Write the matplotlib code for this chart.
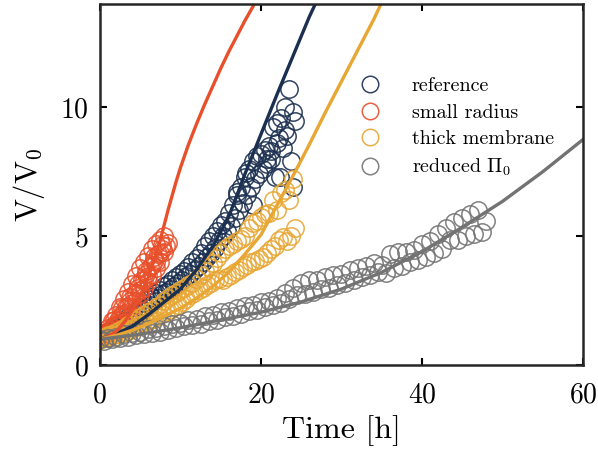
import matplotlib
matplotlib.use("Agg")
import matplotlib.pyplot as plt
import numpy as np

plt.rcParams['font.family'] = ['cmr10', 'DejaVu Serif']
plt.rcParams['mathtext.fontset'] = 'cm'
plt.rcParams['axes.formatter.use_mathtext'] = True

# ---------------- data ----------------
labels = ['reference', 'small radius', 'thick membrane', r'reduced $\Pi_0$']
colors = ['#1b2f50', '#e8502b', '#e8a633', '#737373']

# reference (navy) measurements
ref_t = [0, 0.5, 1, 1.5, 2, 2.5, 3, 3.5, 4, 4.5, 5, 5.5, 6, 6.5, 7, 7.5, 8, 8.5, 9, 9.5,
         10, 10.5, 11, 11.5, 12, 12.5, 13, 13.5, 14, 14.5, 15, 15.5, 16, 16.5, 17, 17.5,
         18, 18.5, 19, 19.5, 20, 20.5, 21, 21.5, 22, 22.5, 23, 23.5, 24,
         0.25, 0.75, 1.25, 1.75, 2.25, 2.75, 3.25, 3.75, 4.25, 4.75, 5.25, 5.75, 6.25, 6.75,
         7.25, 7.75, 8.25, 8.75, 9.25, 9.75, 10.25, 10.75, 11.25, 11.75, 12.25, 12.75, 13.25,
         13.75, 14.25, 14.75, 15.25, 15.75, 16.25, 16.75, 17.25, 17.75, 18.25, 18.75, 19.25,
         19.75, 20.25, 20.75, 21.25, 21.75, 22.25, 22.75, 23.25, 23.75, 24.0, 24.2, 22.4, 20.7,
         23.0, 22.0, 21.2, 19.0, 18.2, 17.0]
ref_v = [1.15, 1.2, 1.3, 1.4, 1.5, 1.6, 1.7, 1.85, 1.95, 2.1, 2.25, 2.4, 2.55, 2.65, 2.8, 2.9,
         3.05, 3.15, 3.3, 3.4, 3.55, 3.65, 3.8, 4.0, 4.15, 4.35, 4.6, 4.8, 5.0, 5.2, 5.45, 5.6,
         5.9, 6.2, 6.6, 6.9, 7.3, 7.6, 7.9, 8.1, 8.2, 8.35, 8.5, 9.25, 9.4, 9.6, 10.0, 10.7, 9.8,
         1.1, 1.15, 1.25, 1.35, 1.45, 1.55, 1.65, 1.75, 1.85, 2.0, 2.1, 2.2, 2.35, 2.5,
         2.6, 2.75, 2.85, 2.95, 3.05, 3.2, 3.3, 3.45, 3.55, 3.7, 3.85, 4.0, 4.2,
         4.35, 4.55, 4.8, 5.0, 5.2, 5.4, 5.7, 6.0, 6.3, 6.6, 6.9, 7.2,
         7.4, 7.6, 7.8, 8.0, 7.3, 8.8, 8.4, 8.9, 7.9, 6.9, 9.45, 7.3, 8.0,
         9.1, 8.6, 8.3, 6.2, 7.45, 6.7]

# small radius (red) measurements
sr_t = [0, 0.5, 1, 1.5, 2, 2.5, 3, 3.5, 4, 4.5, 5, 5.5, 6, 6.5, 7, 7.5, 8,
        0.25, 0.75, 1.25, 1.75, 2.25, 2.75, 3.25, 3.75, 4.25, 4.75, 5.25, 5.75, 6.25, 6.75, 7.25, 7.75, 8.25,
        0, 0.5, 1, 1.5, 2, 2.5, 3, 3.5, 4, 4.5, 5, 5.5, 6, 6.5, 7, 7.5,
        0.5, 1.5, 2.5, 3.5, 4.5, 5.5, 6.5, 7.5,
        1.0, 2.0, 3.0, 4.0, 5.0, 6.0, 7.0, 8.0, 8.5,
        0.75, 1.75, 2.75, 3.75, 4.75, 5.75, 6.75, 7.75]
sr_v = [1.1, 1.25, 1.45, 1.7, 1.95, 2.25, 2.55, 2.85, 3.15, 3.45, 3.75, 4.0, 4.25, 4.5, 4.7, 4.85, 5.0,
        1.05, 1.2, 1.35, 1.55, 1.75, 2.0, 2.25, 2.5, 2.75, 3.0, 3.3, 3.55, 3.8, 4.05, 4.3, 4.5, 4.6,
        1.0, 1.1, 1.2, 1.35, 1.5, 1.65, 1.85, 2.05, 2.25, 2.5, 2.75, 3.0, 3.25, 3.5, 3.75, 4.0,
        1.15, 1.45, 1.85, 2.3, 2.8, 3.3, 3.9, 4.35,
        1.25, 1.6, 2.0, 2.4, 2.9, 3.45, 4.0, 4.4, 4.75,
        1.3, 1.75, 2.2, 2.65, 3.15, 3.65, 4.2, 4.65]

# thick membrane (orange) measurements
tm_t = [0, 0.5, 1, 1.5, 2, 2.5, 3, 3.5, 4, 4.5, 5, 5.5, 6, 6.5, 7, 7.5, 8, 8.5, 9, 9.5,
        10, 10.5, 11, 11.5, 12, 12.5, 13, 13.5, 14, 14.5, 15, 15.5, 16, 16.5, 17, 17.5,
        18, 18.5, 19, 19.5, 20, 20.5, 21, 21.5, 22, 22.5, 23, 23.5, 24,
        0.25, 0.75, 1.25, 1.75, 2.25, 2.75, 3.25, 3.75, 4.25, 4.75, 5.25, 5.75, 6.25, 6.75,
        7.25, 7.75, 8.25, 8.75, 9.25, 9.75, 10.25, 10.75, 11.25, 11.75, 12.25, 12.75, 13.25,
        13.75, 14.25, 14.75, 15.25, 15.75, 16.25, 16.75, 17.25, 17.75, 18.25, 18.75, 19.25,
        19.75, 20.25, 20.75, 21.25, 21.75, 22.25, 22.75, 23.25, 23.75, 24.25]
tm_v = [1.05, 1.1, 1.15, 1.2, 1.3, 1.35, 1.45, 1.55, 1.65, 1.75, 1.85, 1.95, 2.05, 2.15, 2.25, 2.35,
        2.5, 2.6, 2.7, 2.8, 2.9, 3.0, 3.1, 3.2, 3.35, 3.5, 3.65, 3.8, 3.95, 4.15, 4.35, 4.5,
        4.6, 4.7, 4.8, 4.9, 5.0, 5.3, 5.5, 5.6, 5.75, 5.85, 5.9, 6.4, 6.0, 6.67, 6.8, 6.4, 7.2,
        1.0, 1.05, 1.1, 1.15, 1.2, 1.25, 1.3, 1.35, 1.45, 1.5, 1.6, 1.65, 1.75, 1.8,
        1.9, 2.0, 2.05, 2.15, 2.25, 2.35, 2.45, 2.55, 2.7, 2.8, 2.9, 3.0, 3.1,
        3.2, 3.3, 3.35, 3.3, 3.4, 3.5, 3.6, 3.7, 3.8, 3.9, 4.0, 4.05,
        4.1, 4.2, 4.35, 4.5, 4.6, 4.85, 4.95, 4.8, 5.0, 5.3]

# reduced Pi_0 (gray) measurements
rp_t = [0, 1, 2, 3, 4, 5, 6, 7, 8, 9, 10, 11, 12, 13, 14, 15, 16, 17, 18, 19, 20, 21, 22, 23,
        24, 25, 26, 27, 28, 29, 30, 31, 32, 33, 34, 35, 36, 37, 38, 39, 40, 41, 42, 43, 44,
        45, 46, 47, 48,
        0.5, 1.5, 2.5, 3.5, 4.5, 5.5, 6.5, 7.5, 8.5, 9.5, 10.5, 11.5, 12.5, 13.5, 14.5, 15.5,
        16.5, 17.5, 18.5, 19.5, 20.5, 21.5, 22.5, 23.5, 24.5, 25.5, 26.5, 27.5, 28.5, 29.5,
        30.5, 31.5, 32.5, 33.5, 34.5, 35.5, 36.5, 37.5, 38.5, 39.5, 40.5, 41.5, 42.5, 43.5,
        44.5, 45.5, 46.5, 47.5]
rp_v = [1.0, 1.05, 1.1, 1.2, 1.25, 1.3, 1.4, 1.45, 1.5, 1.6, 1.65, 1.75, 1.8, 1.9, 1.95, 2.05,
        2.1, 2.2, 2.3, 2.35, 2.45, 2.5, 2.6, 2.8, 3.0, 3.2, 3.3, 3.3, 3.4, 3.5, 3.55, 3.7, 3.75,
        3.85, 3.95, 3.9, 4.3, 4.4, 4.4, 4.45, 4.7, 4.8, 5.1, 5.3, 5.55, 5.7, 5.85, 6.0, 5.6,
        0.95, 1.0, 1.05, 1.1, 1.15, 1.2, 1.25, 1.3, 1.35, 1.45, 1.5, 1.55, 1.6, 1.7, 1.75, 1.85,
        1.9, 2.0, 2.1, 2.15, 2.25, 2.35, 2.4, 2.55, 2.7, 2.75, 2.85, 2.95, 3.0, 3.1,
        3.2, 3.3, 3.4, 3.5, 3.6, 3.57, 3.75, 3.85, 4.0, 4.08, 4.2, 4.34, 4.5,
        4.85, 4.85, 5.0, 5.1, 5.18]

# model curves
ref_line_t = [0, 2, 4, 6, 8, 10, 12, 14, 16, 18, 20, 22, 24, 26, 27.2]
ref_line_v = [1.0, 1.2, 1.5, 1.95, 2.45, 2.95, 3.7, 4.6, 5.75, 7.4, 8.95, 10.5, 12.0, 13.5, 14.3]

sr_line_t = [0, 1, 2, 3, 4, 5, 6, 7, 7.5, 8, 8.5, 9, 9.5, 10, 11, 12, 13, 14, 15, 16, 17, 18, 19, 19.6]
sr_line_v = [1.0, 1.1, 1.3, 1.65, 2.1, 2.7, 3.4, 4.3, 4.85, 5.45, 6.05, 6.6, 7.15, 7.65, 8.55,
             9.35, 10.1, 10.8, 11.5, 12.15, 12.75, 13.35, 13.9, 14.25]

tm_line_t = [0, 2, 4, 6, 8, 10, 12, 14, 16, 18, 20, 22, 24, 26, 28, 30, 32, 34, 35.2]
tm_line_v = [1.0, 1.15, 1.35, 1.6, 1.9, 2.2, 2.6, 3.05, 3.6, 4.3, 5.05, 6.2, 7.35, 8.55, 9.8,
             11.0, 12.2, 13.4, 14.2]

rp_line_t = [0, 5, 10, 15, 20, 25, 30, 35, 40, 45, 50, 55, 60]
rp_line_v = [1.0, 1.2, 1.45, 1.75, 2.05, 2.45, 2.95, 3.6, 4.4, 5.35, 6.35, 7.5, 8.75]

# ---------------- plotting ----------------
fig = plt.figure(figsize=(5.98, 4.53), dpi=100)
ax = fig.add_axes([0.167, 0.194, 0.808, 0.797])

meas = [(ref_t, ref_v), (sr_t, sr_v), (tm_t, tm_v), (rp_t, rp_v)]
lines = [(ref_line_t, ref_line_v), (sr_line_t, sr_line_v), (tm_line_t, tm_line_v), (rp_line_t, rp_line_v)]

handles = []
for (t, v), c, lab in zip(meas, colors, labels):
    h, = ax.plot(t, v, linestyle='none', marker='o', markersize=12.5, markerfacecolor='none',
                 markeredgecolor=c, markeredgewidth=1.1, alpha=0.9, label=lab)
    handles.append(h)

for (t, v), c in zip(lines, colors):
    ax.plot(t, v, color=c, linewidth=2.4, solid_capstyle='round')

ax.set_xlim(0, 60)
ax.set_ylim(0, 14)
ax.set_xticks([0, 20, 40, 60])
ax.set_yticks([0, 5, 10])
ax.tick_params(direction='in', top=True, right=True, length=5, width=1.5, labelsize=20)
ax.tick_params(axis='x', pad=12)
ax.tick_params(axis='y', pad=8)
for s in ax.spines.values():
    s.set_linewidth(1.8)
    s.set_color('#262626')

ax.set_xlabel('Time [h]', fontsize=23, labelpad=5)
ax.set_ylabel(r'$\mathrm{V/V_0}$', fontsize=22)
ax.yaxis.set_label_coords(-0.11, 0.5)

ax.legend(handles=handles, loc='upper left', bbox_to_anchor=(0.5, 0.82), frameon=False,
          fontsize=14.5, handletextpad=1.1, labelspacing=0.42, borderaxespad=0.0,
          markerscale=0.95)

fig.savefig('out.png', dpi=100)
